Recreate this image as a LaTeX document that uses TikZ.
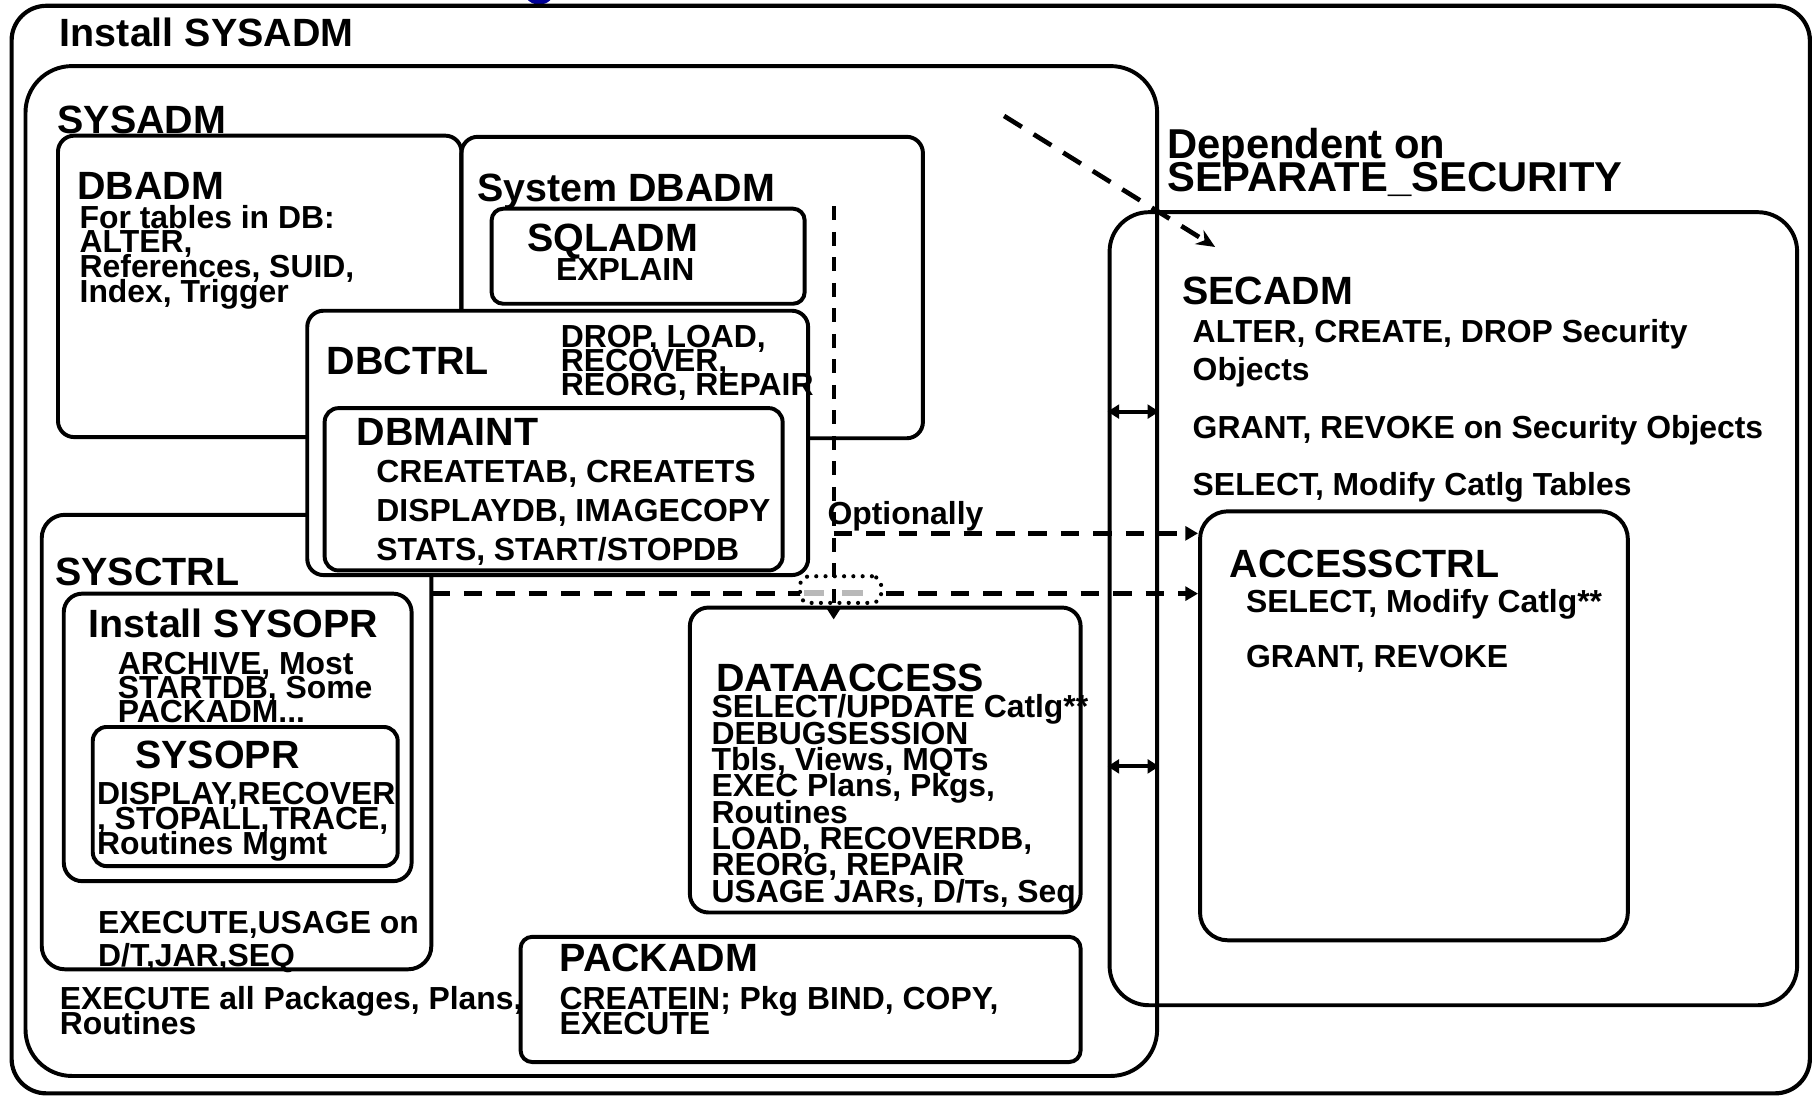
\documentclass[tikz,border=0pt]{standalone}
\usepackage{fontspec}
\setmainfont{Liberation Sans}
\usepackage{tikz}
\usetikzlibrary{arrows.meta, fit}
\definecolor{markblue}{RGB}{0,0,150}
\newcommand\tightlines{\lineskiplimit-\maxdimen}

\begin{document}
\begin{tikzpicture}[x=0.5pt, y=-0.5pt, line width=1.7pt,
    box/.style={draw, rounded corners=#1, inner sep=0pt}, box/.default=6pt,
    hd/.style={inner sep=0pt, anchor=base west, font=\fontsize{17}{20}\selectfont\bfseries},
    txt/.style={inner sep=0pt, anchor=base west, align=left,
      font=\fontsize{13.75}{#1}\selectfont\tightlines\bfseries},
    txt/.default=10.7pt,
    dsh/.style={dash pattern=on 8pt off 6pt, line width=2pt},
    darr/.style={dsh, -{Triangle[length=5.5pt,width=6pt]}},
    dbl/.style={{Triangle[length=5pt,width=6pt]}-{Triangle[length=5pt,width=6pt]}}]
  \useasboundingbox (0,0) rectangle (1568,947);

  % frames
  \fill[markblue] (465,-10) circle[radius=7pt];
  \node[box=15pt, line width=1.8pt, fit={(10,5) (1561,943)}] (inst) {};
  \node[box=20pt, fit={(22,57) (998,928)}] (sysadm) {};
  \node[box=17pt, fit={(957,183) (1550,867)}] (secsep) {};
  \node[box=7pt, fit={(50,117) (398,377)}] (dbadm) {};
  \node[box=7pt, fit={(398,118) (796,378)}] (sysdbadm) {};
  \node[box=5pt, fit={(424,180) (694,262)}] (sqladm) {};
  \node[box=10pt, fit={(36,444) (372,836)}] (sysctrl) {};
  \node[box=7pt, fill=white, fit={(265,268) (697,496)}] (dbctrl) {};
  \node[box, fit={(280,352) (675,492)}] (dbmaint) {};
  \node[box=8pt, fit={(55,512) (355,760)}] (instopr) {};
  \node[box, fit={(80,627) (343,747)}] (sysopr) {};
  \node[box=8pt, fit={(595,524) (932,787)}] (dataacc) {};
  \node[box=5pt, fit={(449,808) (932,916)}] (packadm) {};
  \node[box=12pt, fit={(1035,441) (1404,811)}] (accctrl) {};

  % labels (multi-line texts sit on their last baseline)
  \node[hd] (linst) at (50,40) {Install SYSADM};
  \node[hd] (lsysadm) at (48,115) {SYSADM};
  \node[hd] (ldbadm) at (65,172) {DBADM};
  \node[txt] (tdbadm) at (67,261) {For tables in DB:\\ALTER,\\References, SUID,\\Index, Trigger};
  \node[hd] (lsysdbadm) at (410,174) {System DBADM};
  \node[hd] (lsqladm) at (453,217) {SQLADM};
  \node[txt] (tsqladm) at (478,242) {EXPLAIN};
  \node[hd] (ldbctrl) at (280,323) {DBCTRL};
  \node[txt=10.25pt] (tdbctrl) at (482,341) {DROP, LOAD,\\RECOVER,\\REORG, REPAIR};
  \node[hd] (ldbmaint) at (306,384) {DBMAINT};
  \node[txt=16.75pt] (tdbmaint) at (323,483) {CREATETAB, CREATETS\\DISPLAYDB, IMAGECOPY\\STATS, START/STOPDB};
  \node[hd] (lsysctrl) at (46,505) {SYSCTRL};
  \node[hd] (linstopr) at (75,550) {Install SYSOPR};
  \node[txt=10.25pt] (tinstopr) at (100,623) {ARCHIVE, Most\\STARTDB, Some\\PACKADM...};
  \node[hd] (lsysopr) at (115,663) {SYSOPR};
  \node[txt=10.75pt] (tsysopr) at (82,737) {DISPLAY,RECOVER\\, STOPALL,TRACE,\\Routines Mgmt};
  \node[txt=14.5pt] (tsysctrl) at (83,834) {EXECUTE,USAGE on\\D/T,JAR,SEQ};
  \node[txt=10.5pt] (tsysadm) at (50,892) {EXECUTE all Packages, Plans,\\Routines};
  \node[hd] (lpackadm) at (481,838) {PACKADM};
  \node[txt=10.5pt] (tpackadm) at (481,892) {CREATEIN; Pkg BIND, COPY,\\EXECUTE};
  \node[hd] (ldataacc) at (616,596) {DATAACCESS};
  \node[txt=11.35pt] (tdataacc) at (612,778) {SELECT/UPDATE Catlg**\\DEBUGSESSION\\Tbls, Views, MQTs\\EXEC Plans, Pkgs,\\Routines\\LOAD, RECOVERDB,\\REORG, REPAIR\\USAGE JARs, D/Ts, Seq};
  \node[txt, font=\fontsize{18}{14}\selectfont\tightlines\bfseries] (ldep) at (1005,165) {Dependent on\\SEPARATE\_SECURITY};
  \node[hd] (lsecadm) at (1018,263) {SECADM};
  \node[txt=16.5pt] (tsecadm) at (1027,328) {ALTER, CREATE, DROP Security\\Objects};
  \node[txt] (tsecgrant) at (1027,378) {GRANT, REVOKE on Security Objects};
  \node[txt] (tsecsel) at (1027,427) {SELECT, Modify Catlg Tables};
  \node[hd] (laccctrl) at (1059,498) {ACCESSCTRL};
  \node[txt] (taccsel) at (1073,528) {SELECT, Modify Catlg**};
  \node[txt] (taccgrant) at (1073,576) {GRANT, REVOKE};
  \node[txt] (opt) at (712,452) {Optionally};

  % connectors
  \coordinate (dstart) at (866,100);
  \coordinate (dend) at (1048,213);
  \coordinate (vtop) at (719,178);
  \coordinate (optrow) at (719,460);
  \coordinate (lowrow) at (372,512);
  \coordinate (uprow) at (0,355);
  \coordinate (dnrow) at (0,661);
  \draw[dsh, dash pattern=on 9pt off 6pt, -{Stealth[length=8pt,width=7pt]}] (dstart) -- (dend);
  \draw[darr] (lowrow) -- (lowrow -| accctrl.west);
  \node[box=4pt, fill=white, line width=1.8pt, dash pattern=on 0pt off 4pt, line cap=round,
    fit={(690,497) (760,520)}] (jump) {};
  \fill[gray!55] (693,509) rectangle (711,514);
  \fill[gray!55] (726,509) rectangle (744,514);
  \draw[dsh, dash pattern=on 6pt off 5pt, line width=1.8pt, -{Triangle[length=5pt,width=6pt]}]
    (vtop) -- ([yshift=-6pt]vtop |- dataacc.north);
  \draw[darr] (optrow) -- (optrow -| accctrl.west);
  \draw[dbl] (secsep.west |- uprow) -- (sysadm.east |- uprow);
  \draw[dbl] (secsep.west |- dnrow) -- (sysadm.east |- dnrow);
\end{tikzpicture}
\end{document}
